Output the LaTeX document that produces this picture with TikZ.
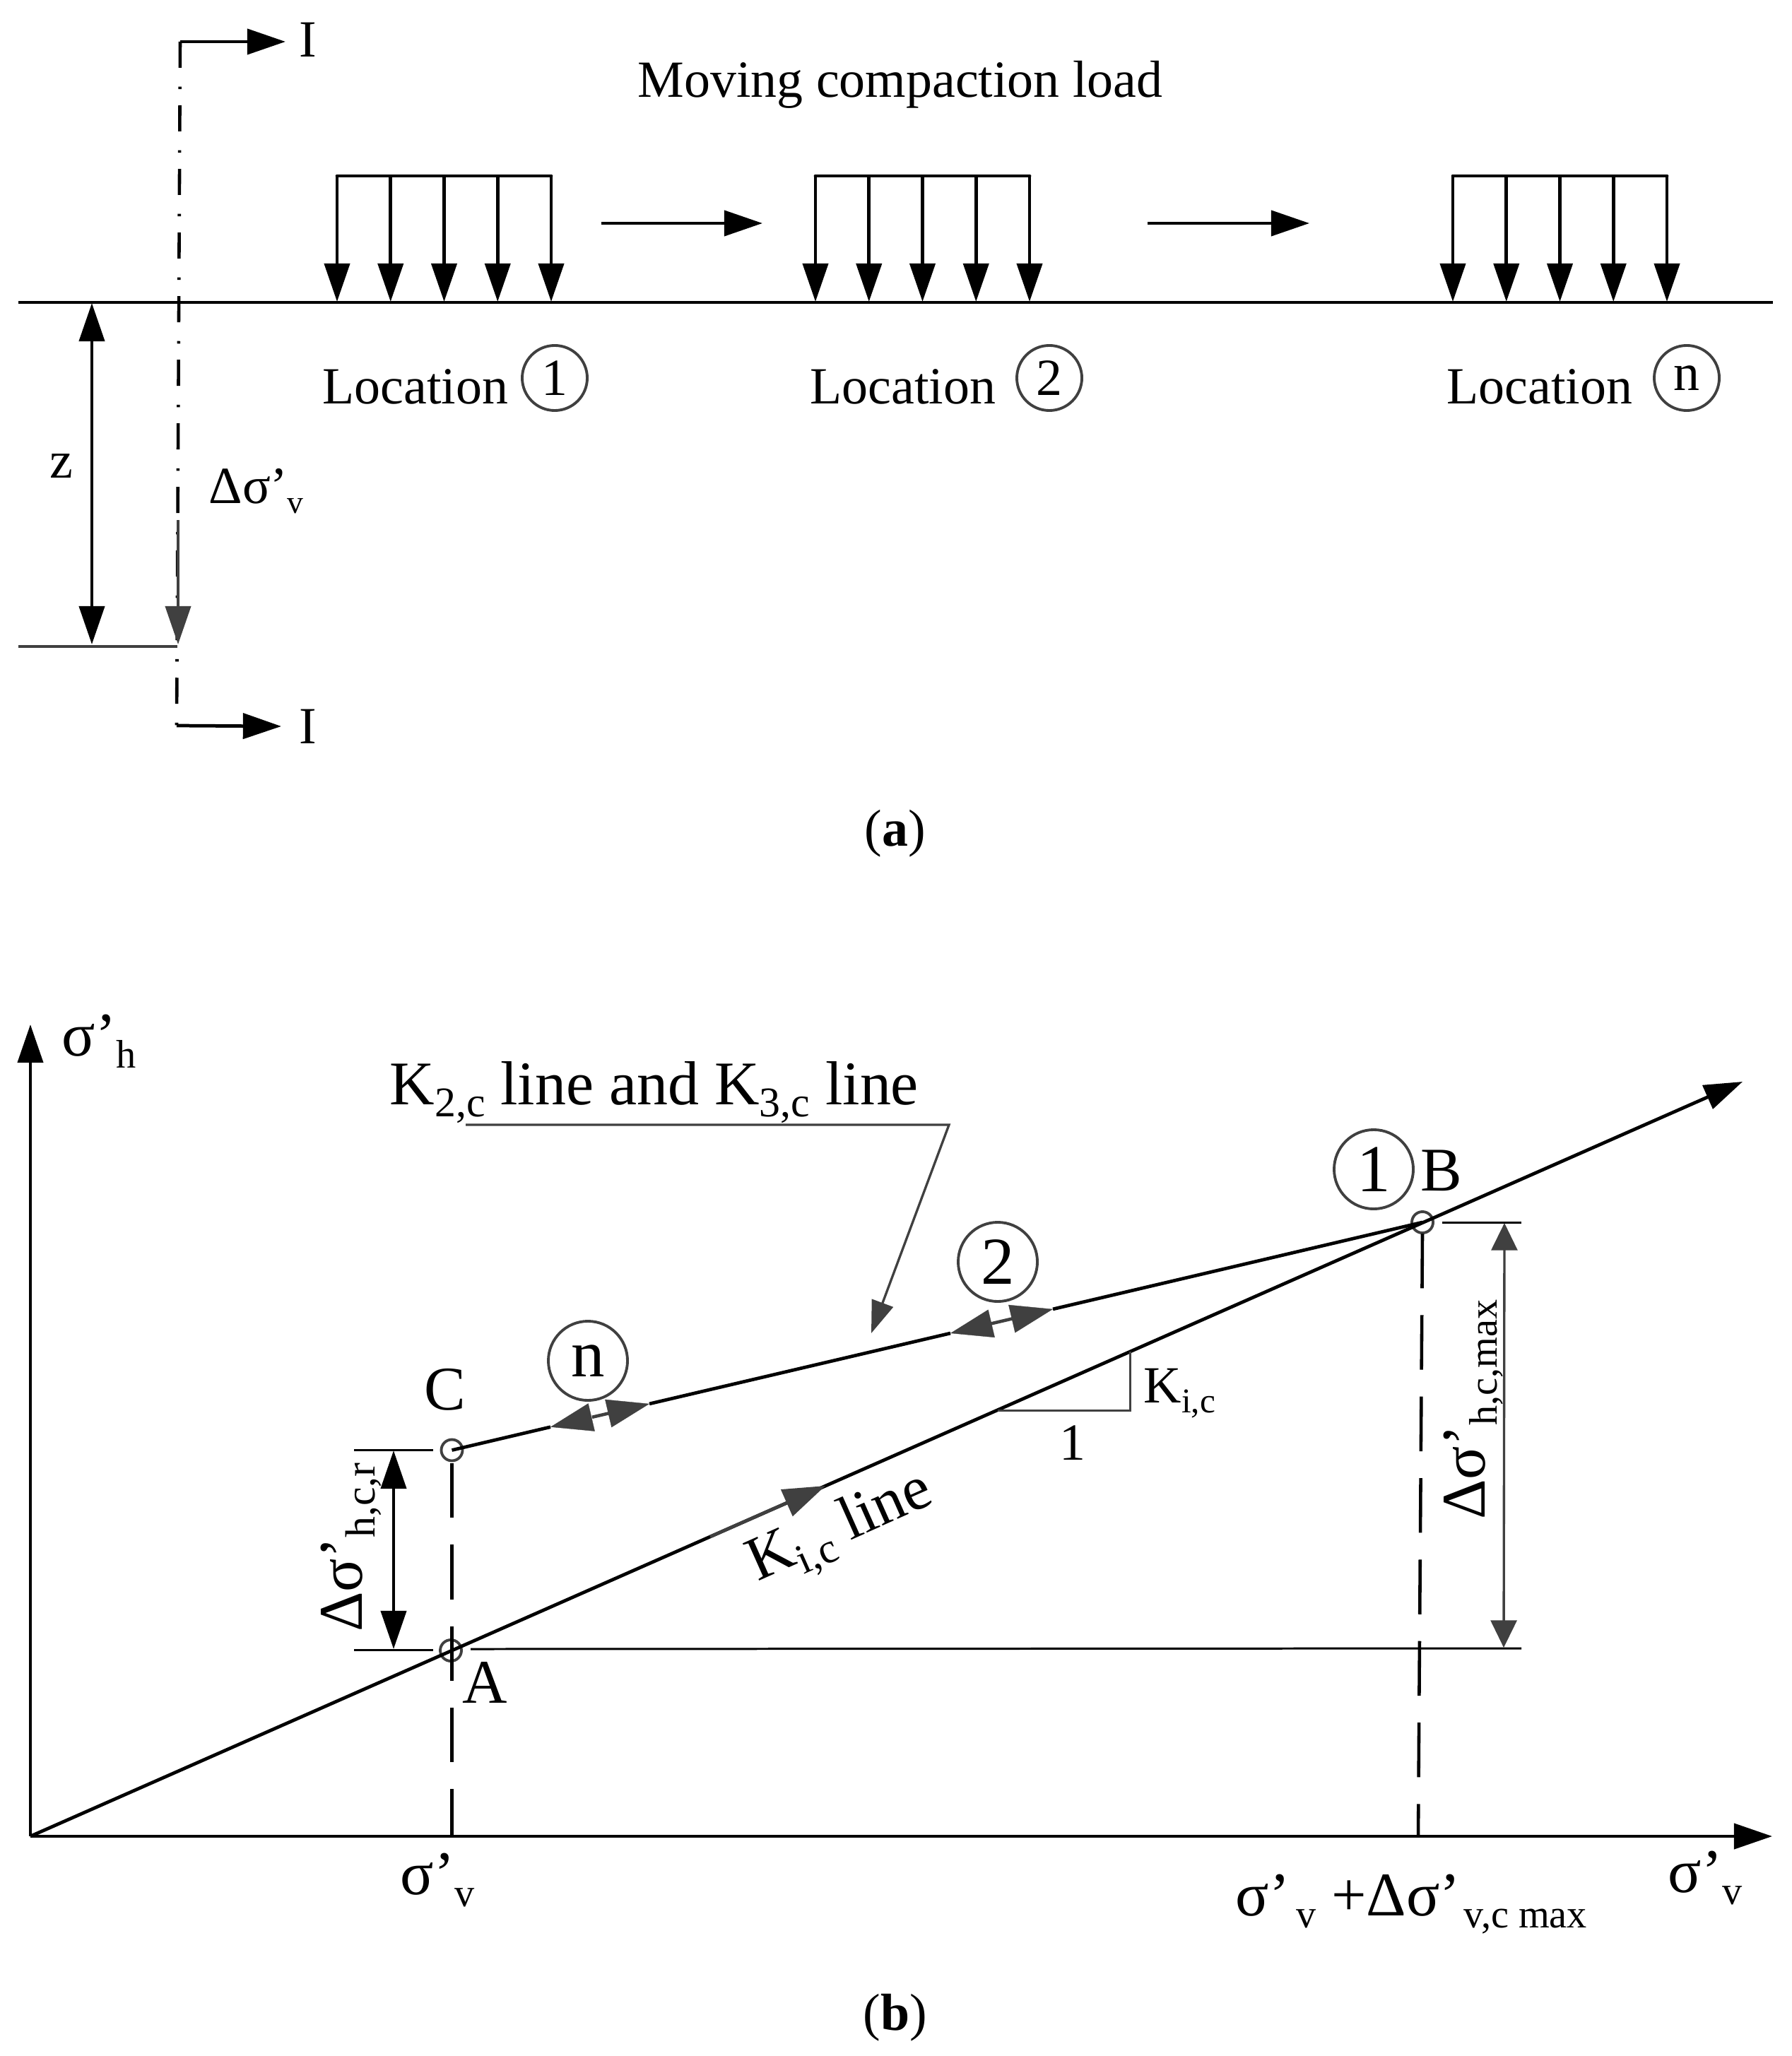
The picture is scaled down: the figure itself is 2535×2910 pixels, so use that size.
\documentclass[tikz,border=0pt]{standalone}
\usepackage{fontspec}
\setmainfont{Liberation Serif}
\usetikzlibrary{arrows.meta}
\definecolor{dk}{HTML}{404040}
\newcommand{\fs}[1]{\fontsize{#1}{#1}\selectfont}
\newcommand{\subs}[2]{\raisebox{-0.2em}{\fs{#1}#2}}
\tikzset{
  x=0.01cm,y=-0.01cm,
  thick line/.style={line width=1.35pt,black},
  thin line/.style={line width=0.85pt,black},
  dk line/.style={line width=0.95pt,dk},
  big tip/.style={-{Triangle[length=15.4pt,width=10.2pt]}},
  both tip/.style={{Triangle[length=15.4pt,width=10.2pt]}-{Triangle[length=15.4pt,width=10.2pt]}},
  mid tip/.style={-{Triangle[length=17pt,width=11.5pt]}},
  ring/.style={circle,draw=dk,line width=1.1pt,inner sep=0pt},
  locring/.style={ring,minimum size=92*0.2845pt,font=\fs{21}},
  bigring/.style={ring,minimum size=112*0.2845pt,font=\fs{27}},
  pt/.style={circle,draw=dk,line width=1.1pt,inner sep=0pt,minimum size=30*0.2845pt},
  txt/.style={inner sep=0pt,font=\fs{21}},
  btxt/.style={inner sep=0pt,font=\fs{25}},
  dd/.style={line width=1.3pt,dash pattern=on 10.5pt off 7.6pt on 1pt off 6.5pt},
  dsh/.style={line width=1.3pt,dash pattern=on 22pt off 10.8pt}
}
\begin{document}
\begin{tikzpicture}
\useasboundingbox (0,0) rectangle (2535,2910);
% ---------- part (a)
\coordinate (gl) at (26,428); \coordinate (gr) at (2509,428);
\draw[thick line] (gl) -- (gr);
\coordinate (lowl) at (26,915); \coordinate (lowr) at (251,915);
\draw[line width=1.2pt,dk] (lowl) -- (lowr);
% section line
\coordinate (s1) at (255,59); \coordinate (s2) at (250,1027);
\coordinate (s1t) at (404,59); \coordinate (s2t) at (398,1028);
\draw[dd] (s1) -- (s2);
\draw[thick line,big tip] (s1) -- (s1t);
\draw[thick line,big tip] (s2) -- (s2t);
\node[txt,anchor=center] (I1) at (436,56) {I};
\node[txt,anchor=center] (I2) at (436,1028) {I};
% z and delta
\coordinate (z1) at (130,429); \coordinate (z2) at (130,912);
\draw[thick line,both tip] (z1) -- (z2);
\node[txt,anchor=center] (zl) at (87,660) {z};
\coordinate (d1) at (252,736); \coordinate (d2) at (252,912);
\draw[line width=1.3pt,dk,big tip] (d1) -- (d2);
\node[txt,anchor=base west] (dv) at (295,712) {Δσ’\hspace{-0.02em}\subs{13}{v}};
% loads
\foreach \nm/\xa in {p/477,q/1154,r/2056}{
  \foreach \i in {0,...,4}{
    \pgfmathsetmacro{\xx}{\xa+\i*75.75}
    \coordinate (\nm\i t) at (\xx,249);
    \coordinate (\nm\i b) at (\xx,427);
    \draw[thick line,big tip] (\nm\i t) -- (\nm\i b);
  }
  \draw[thick line,line cap=round] (\nm0t) -- (\nm4t);
}
\coordinate (m1a) at (851,316); \coordinate (m1b) at (1079,316);
\coordinate (m2a) at (1624,316); \coordinate (m2b) at (1853,316);
\draw[thick line,big tip] (m1a) -- (m1b);
\draw[thick line,big tip] (m2a) -- (m2b);
\node[txt,anchor=center] (mv) at (1274,120) {Moving compaction load};
\node[txt,anchor=base west] (l1) at (456,572) {Location};
\node[txt,anchor=base west] (l2) at (1146,572) {Location};
\node[txt,anchor=base west] (l3) at (2047,572) {Location};
\node[locring] (c1) at (785,535) {1};
\node[locring] (c2) at (1485,535) {2};
\node[locring] (c3) at (2387,535) {n};
\node[txt,anchor=center] (cap1) at (1267,1180) {(\textbf{a})};
% ---------- part (b)
\coordinate (O) at (43,2599);
\coordinate (yt) at (43,1450);
\coordinate (xt) at (2508,2599);
\draw[thick line,big tip] (O) -- (yt);
\draw[thick line,big tip] (O) -- (xt);
\node[btxt,anchor=base west] (yl) at (87,1494) {σ’\subs{16}{h}};
\node[btxt,anchor=base west] (xl) at (2360,2678) {σ’\subs{16}{v}};
% points
\node[pt] (A) at (638,2336) {};
\node[pt] (C) at (639.5,2052.5) {};
\node[pt] (B) at (2013,1730) {};
\node[btxt,anchor=center] (Al) at (686,2381) {A};
\node[btxt,anchor=center] (Cl) at (630,1967) {C};
\node[btxt,anchor=center] (Bl) at (2040,1657) {B};
% main line
\coordinate (kt) at (2466,1531);
\draw[thick line,big tip] (O) -- (kt);
\coordinate (ga) at (1005,2175); \coordinate (gb) at (1168,2103);
\draw[line width=1.3pt,dk,mid tip] (ga) -- (gb);
% upper line
\coordinate (n1) at (779,2019.7); \coordinate (n2) at (838,2005.8);
\coordinate (n3) at (862,2000.2); \coordinate (n4) at (919,1986.9);
\coordinate (t1) at (1345,1887); \coordinate (t2) at (1401,1873.8);
\coordinate (t3) at (1433,1866.3); \coordinate (t4) at (1490,1852.9);
\draw[thick line] (C.center) -- (n1);
\draw[thick line] (n4) -- (t1);
\draw[thick line] (t4) -- (B.center);
\draw[line width=1.3pt,dk] (n2) -- (n3);
\draw[line width=1.3pt,dk] (t2) -- (t3);
\draw[line width=0.1pt,dk,mid tip] (n2) -- (n1);
\draw[line width=0.1pt,dk,mid tip] (n3) -- (n4);
\draw[line width=0.1pt,dk,mid tip] (t2) -- (t1);
\draw[line width=0.1pt,dk,mid tip] (t3) -- (t4);
\node[bigring] (r1) at (1944,1655) {1};
\node[bigring] (r2) at (1412,1786) {2};
\node[bigring] (r3) at (832,1926) {n};
% dashed verticals
\coordinate (Ab) at (639.5,2599); \coordinate (Bb) at (2007,2599);
\coordinate (Cs) at (639.5,2071); \coordinate (Bs) at (2013,1746);
\draw[dsh] (Cs) -- (Ab);
\draw[dsh] (Bs) -- (Bb);
% ticks
\coordinate (ca) at (501,2052); \coordinate (cb) at (613,2052);
\coordinate (aa) at (501,2335); \coordinate (ab) at (613,2335);
\coordinate (ac) at (666,2334); \coordinate (ad) at (2153,2333);
\coordinate (ba) at (2041,1730); \coordinate (bd) at (2153,1730);
\draw[thin line] (ca) -- (cb);
\draw[thin line] (aa) -- (ab);
\draw[thin line] (ac) -- (ad);
\draw[thin line] (ba) -- (bd);
\coordinate (e1) at (557,2053); \coordinate (e2) at (557,2334);
\draw[thick line,both tip] (e1) -- (e2);
\coordinate (f1) at (2129,1731); \coordinate (f2) at (2128,2332);
\draw[dk line,{Triangle[length=11pt,width=10.5pt]}-{Triangle[length=11pt,width=10.5pt]}] (f1) -- (f2);
% leader
\coordinate (k1) at (659,1592); \coordinate (k2) at (1343,1592); \coordinate (k3) at (1233,1887);
\draw[dk line,{Triangle[length=13pt,width=9pt]}-] (k3) -- (k2) -- (k1);
\node[btxt,anchor=base west] (kl) at (551,1563) {K\subs{17}{2,c} line and K\subs{17}{3,c} line};
% slope triangle
\coordinate (s0) at (1412,1996); \coordinate (s3) at (1599,1996); \coordinate (s4) at (1599,1913);
\draw[thin line,dk] (s0) -- (s3) -- (s4);
\node[txt,anchor=center] (one) at (1518,2042) {1};
\node[txt,anchor=base west] (ki) at (1618,1985) {K\subs{14}{i,c}};
\node[btxt,rotate=24,anchor=center] (kil) at (1191,2167) {K\subs{17}{i,c} line};
% rotated deltas
\node[btxt,rotate=90,anchor=center] (dr) at (497,2190) {Δσ’\subs{17}{h,c,r}};
\node[btxt,rotate=90,anchor=center] (dm) at (2085,1995) {Δσ’\subs{16}{h,c,max}};
% axis labels
\node[btxt,anchor=base west] (sv) at (566,2681) {σ’\subs{16}{v}};
\node[btxt,anchor=base west] (sm) at (1748,2711) {σ’\hspace{0.1em}\subs{16}{v} +Δσ’\hspace{0.05em}\subs{16}{v,c max}};
\node[txt,anchor=center] (cap2) at (1267,2856) {(\textbf{b})};
\end{tikzpicture}
\end{document}
